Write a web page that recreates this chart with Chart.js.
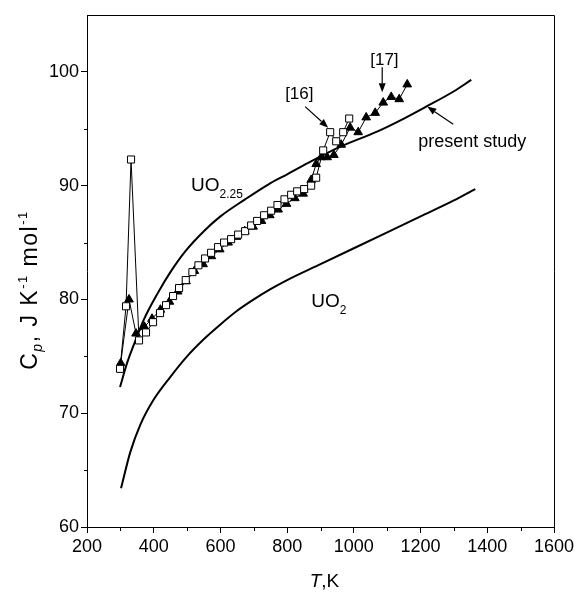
<!DOCTYPE html>
<html><head><meta charset="utf-8">
<script src="https://cdn.jsdelivr.net/npm/chart.js@4"></script>
<style>html,body{margin:0;padding:0;background:#fff}#wrap{width:580px;height:592px}</style>
</head><body><div id="wrap"><canvas id="c" width="580" height="592"></canvas></div>
<script>
// ---- data ----
const X_TICKS = [200, 400, 600, 800, 1000, 1200, 1400, 1600];
const Y_TICKS = [60, 70, 80, 90, 100];

// UO2.25 "present study" curve
const T_UO225 = [299, 320, 344, 370, 413, 450, 494, 554, 600, 674, 743, 800, 863, 950, 1073, 1150, 1214, 1300, 1352];
const CP_UO225 = [72.3, 74.4, 76.3, 78.2, 80.6, 82.4, 84.2, 86.1, 87.3, 88.8, 90.1, 91.0, 92.0, 93.3, 94.8, 95.9, 96.9, 98.3, 99.3];

// UO2 curve
const T_UO2 = [302, 330, 360, 400, 450, 500, 550, 600, 650, 700, 750, 800, 900, 1000, 1100, 1200, 1300, 1364];
const CP_UO2 = [63.4, 66.6, 69.0, 71.2, 73.2, 75.0, 76.5, 77.8, 79.0, 80.0, 80.9, 81.7, 83.1, 84.5, 85.9, 87.3, 88.7, 89.7];

// [16] open squares
const T_SQ = [299, 317, 332, 356, 377, 398, 419, 437, 458, 476, 496, 516, 534, 554, 572, 593, 611, 632, 653, 674, 692, 710, 731, 752, 771, 792, 812, 830, 851, 872, 887, 908, 929, 947, 968, 986];
const CP_SQ = [73.9, 79.4, 92.3, 76.4, 77.1, 78.0, 78.8, 79.5, 80.3, 81.0, 81.7, 82.4, 83.0, 83.6, 84.1, 84.6, 85.0, 85.3, 85.7, 86.0, 86.5, 86.9, 87.4, 87.8, 88.3, 88.8, 89.2, 89.5, 89.7, 90.0, 90.7, 93.1, 94.7, 93.9, 94.7, 95.9];

// [17] filled triangles
const T_TR = [301, 326, 347, 372, 395, 420, 447, 472, 497, 522, 548, 573, 598, 623, 648, 673, 698, 723, 748, 773, 798, 823, 848, 872, 887, 902, 920, 940, 962, 989, 1013, 1037, 1064, 1088, 1112, 1136, 1160];
const CP_TR = [74.4, 80.0, 77.0, 77.6, 78.3, 79.1, 79.8, 80.7, 81.6, 82.5, 83.1, 83.8, 84.4, 85.0, 85.5, 86.0, 86.4, 86.9, 87.4, 87.9, 88.4, 88.9, 89.3, 90.5, 91.9, 92.5, 92.5, 92.7, 93.6, 95.1, 94.7, 96.0, 96.4, 97.3, 97.8, 97.6, 98.9];

const pts = (xs, ys) => xs.map((x, i) => ({x: x, y: ys[i]}));
const FF = '"Liberation Sans", Arial, Helvetica, sans-serif';

function setFont(ctx, p){ ctx.font = (p.it ? 'italic ' : '') + p.s + 'px ' + FF; }
function richWidth(ctx, parts){ let w = 0; for (const p of parts){ setFont(ctx, p); w += ctx.measureText(p.t).width; } return w; }
function drawRich(ctx, parts, x, y, align){
  const w = richWidth(ctx, parts);
  let cx = align === 'center' ? x - w / 2 : (align === 'right' ? x - w : x);
  ctx.textAlign = 'left'; ctx.textBaseline = 'alphabetic'; ctx.fillStyle = '#000';
  for (const p of parts){ setFont(ctx, p); ctx.fillText(p.t, cx, y + (p.dy || 0)); cx += ctx.measureText(p.t).width; }
}
function arrow(ctx, x1, y1, x2, y2){
  ctx.save(); ctx.strokeStyle = '#000'; ctx.fillStyle = '#000'; ctx.lineWidth = 1.2;
  const a = Math.atan2(y2 - y1, x2 - x1), L = 9, W = 3.5;
  const bx = x2 - L * Math.cos(a), by = y2 - L * Math.sin(a);
  ctx.beginPath(); ctx.moveTo(x1, y1); ctx.lineTo(bx, by); ctx.stroke();
  ctx.beginPath(); ctx.moveTo(x2, y2);
  ctx.lineTo(bx + W * Math.sin(a), by - W * Math.cos(a));
  ctx.lineTo(bx - W * Math.sin(a), by + W * Math.cos(a));
  ctx.closePath(); ctx.fill(); ctx.restore();
}

const decor = {
  id: 'decor',
  afterDraw(chart){
    const ctx = chart.ctx, a = chart.chartArea, sx = chart.scales.x, sy = chart.scales.y;
    const X = v => sx.getPixelForValue(v), Y = v => sy.getPixelForValue(v);
    ctx.save();
    // frame (top & right)
    ctx.strokeStyle = '#000'; ctx.lineWidth = 1;
    ctx.beginPath();
    ctx.moveTo(a.left, a.top + 0.5); ctx.lineTo(a.right + 0.5, a.top + 0.5); ctx.lineTo(a.right + 0.5, a.bottom);
    ctx.stroke();
    // minor ticks
    ctx.beginPath();
    for (let v = 300; v < 1600; v += 200){ const px = Math.round(X(v)) + 0.5; ctx.moveTo(px, a.bottom); ctx.lineTo(px, a.bottom + 4); }
    for (let v = 65; v < 105; v += 10){ const py = Math.round(Y(v)) + 0.5; ctx.moveTo(a.left, py); ctx.lineTo(a.left - 3, py); }
    ctx.stroke();
    // curve labels
    drawRich(ctx, [{t:'UO', s:19}, {t:'2.25', s:12, dy:7}], X(512), Y(89.5), 'left');
    drawRich(ctx, [{t:'UO', s:19}, {t:'2', s:12, dy:7}], X(872), Y(79.3), 'left');
    drawRich(ctx, [{t:'[16]', s:17}], X(794), Y(97.6), 'left');
    drawRich(ctx, [{t:'[17]', s:17}], X(1049), Y(100.6), 'left');
    drawRich(ctx, [{t:'present study', s:18}], X(1193), Y(93.4), 'left');
    arrow(ctx, X(854), Y(96.95), X(923), Y(95.1));
    arrow(ctx, X(1085), Y(100.4), X(1085), Y(98.2));
    arrow(ctx, X(1298), Y(95.4), X(1220), Y(96.95));
    // axis titles
    drawRich(ctx, [{t:'T', s:19, it:true}, {t:',K', s:19}], (a.left + a.right) / 2 + 4, 587, 'center');
    ctx.save(); ctx.translate(37, 290); ctx.rotate(-Math.PI / 2);
    ctx.letterSpacing = '1.5px';
    drawRich(ctx, [{t:'C', s:23}, {t:'p', s:14, it:true, dy:5}, {t:', J K', s:23}, {t:'-1', s:13, dy:-10}, {t:' mol', s:23}, {t:'-1', s:13, dy:-10}], 0, 0, 'center');
    ctx.restore();
    ctx.restore();
  }
};

const tickFont = {family: FF, size: 18};
new Chart(document.getElementById('c'), {
  type: 'scatter',
  data: { datasets: [
    { label: '[16]', data: pts(T_SQ, CP_SQ), showLine: true, borderColor: '#000', borderWidth: 1,
      pointStyle: 'rect', pointRadius: 5, pointBackgroundColor: '#fff', pointBorderColor: '#000', pointBorderWidth: 1, order: 0 },
    { label: '[17]', data: pts(T_TR, CP_TR), showLine: true, borderColor: '#000', borderWidth: 1,
      pointStyle: 'triangle', pointRadius: 5, pointBackgroundColor: '#000', pointBorderColor: '#000', pointBorderWidth: 1, order: 1 },
    { label: 'UO2.25', data: pts(T_UO225, CP_UO225), showLine: true, borderColor: '#000', borderWidth: 2,
      pointRadius: 0, cubicInterpolationMode: 'monotone', order: 2 },
    { label: 'UO2', data: pts(T_UO2, CP_UO2), showLine: true, borderColor: '#000', borderWidth: 2,
      pointRadius: 0, cubicInterpolationMode: 'monotone', order: 3 }
  ]},
  options: {
    responsive: false, animation: false, devicePixelRatio: 1,
    layout: { padding: { left: 0, right: 26, top: 15, bottom: 0 } },
    plugins: { legend: { display: false }, tooltip: { enabled: false } },
    scales: {
      x: { type: 'linear', min: 200, max: 1600,
        afterBuildTicks: s => { s.ticks = X_TICKS.map(v => ({value: v})); },
        afterFit: s => { s.height = 65; },
        ticks: { font: tickFont, color: '#000', padding: 3, maxRotation: 0, autoSkip: false, callback: v => String(v) },
        grid: { drawOnChartArea: false, color: '#000', tickLength: 6, lineWidth: 1 },
        border: { display: true, color: '#000', width: 1 } },
      y: { type: 'linear', min: 60, max: 105,
        afterBuildTicks: s => { s.ticks = Y_TICKS.map(v => ({value: v})); },
        afterFit: s => { s.width = 87; },
        ticks: { font: tickFont, color: '#000', padding: 2, autoSkip: false, callback: v => String(v) },
        grid: { drawOnChartArea: false, color: '#000', tickLength: 6, lineWidth: 1 },
        border: { display: true, color: '#000', width: 1 } }
    }
  },
  plugins: [decor]
});
</script>
</body></html>
